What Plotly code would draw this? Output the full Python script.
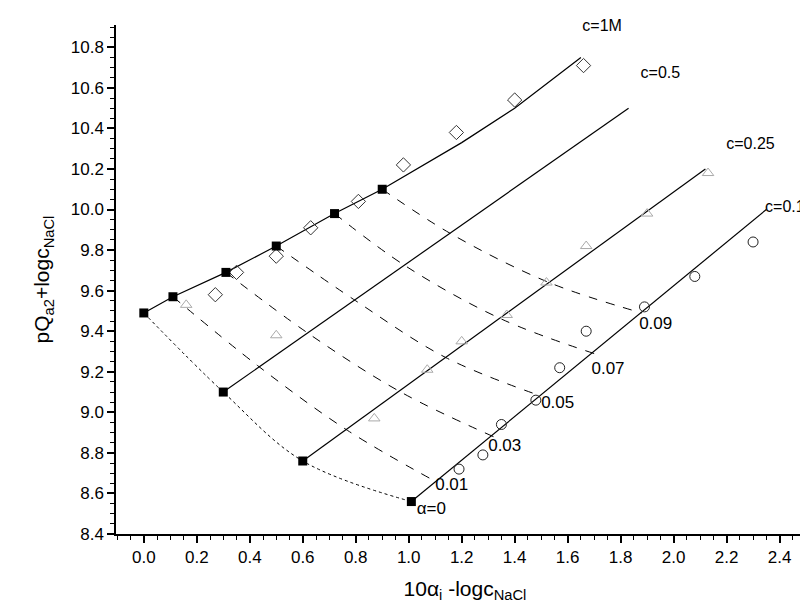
import plotly.graph_objects as go

# solid c-lines
c1_x = [0.0, 0.11, 0.31, 0.5, 0.72, 0.9, 1.2, 1.4, 1.65]
c1_y = [9.49, 9.57, 9.69, 9.82, 9.98, 10.1, 10.33, 10.5, 10.75]
c05_x = [0.3, 1.83]
c05_y = [9.1, 10.5]
c025_x = [0.6, 2.12]
c025_y = [8.76, 10.2]
c01_x = [1.01, 2.35]
c01_y = [8.56, 10.0]

# alpha curves (c=1, 0.5, 0.25, 0.1)
alpha_labels = ["α=0", "0.01", "0.03", "0.05", "0.07", "0.09"]
alpha_x = [[0.0, 0.3, 0.6, 1.01],
           [0.11, 0.43, 0.77, 1.1],
           [0.31, 0.62, 0.97, 1.32],
           [0.5, 0.8, 1.14, 1.5],
           [0.72, 0.99, 1.35, 1.7],
           [0.9, 1.16, 1.53, 1.88]]
alpha_y = [[9.49, 9.1, 8.76, 8.56],
           [9.57, 9.23, 8.91, 8.66],
           [9.69, 9.39, 9.1, 8.88],
           [9.82, 9.55, 9.27, 9.08],
           [9.98, 9.72, 9.46, 9.29],
           [10.1, 9.88, 9.64, 9.49]]
label_x = [1.03, 1.1, 1.3, 1.5, 1.69, 1.87]
label_y = [8.52, 8.64, 8.83, 9.04, 9.21, 9.43]

# filled squares
sq_x = [0.0, 0.11, 0.31, 0.5, 0.72, 0.9, 0.3, 0.6, 1.01]
sq_y = [9.49, 9.57, 9.69, 9.82, 9.98, 10.1, 9.1, 8.76, 8.56]

# measured points
dia_x = [0.27, 0.35, 0.5, 0.63, 0.81, 0.98, 1.18, 1.4, 1.66]
dia_y = [9.58, 9.69, 9.77, 9.91, 10.04, 10.22, 10.38, 10.54, 10.71]
tri_x = [0.16, 0.5, 0.87, 1.07, 1.2, 1.37, 1.52, 1.67, 1.9, 2.13]
tri_y = [9.53, 9.38, 8.97, 9.21, 9.35, 9.48, 9.64, 9.82, 9.98, 10.18]
cir_x = [1.19, 1.28, 1.35, 1.48, 1.57, 1.67, 1.89, 2.08, 2.3]
cir_y = [8.72, 8.79, 8.94, 9.06, 9.22, 9.4, 9.52, 9.67, 9.84]

c_labels = ["c=1M", "c=0.5", "c=0.25", "c=0.1"]
c_label_x = [1.73, 1.95, 2.29, 2.42]
c_label_y = [10.9, 10.67, 10.32, 10.01]

fig = go.Figure()
for i in range(len(alpha_x)):
    fig.add_trace(go.Scatter(x=alpha_x[i], y=alpha_y[i], mode="lines", line_shape="spline",
                             line=dict(color="black", width=1, dash="dot" if i == 0 else "dash")))
for xs, ys in [(c1_x, c1_y), (c05_x, c05_y), (c025_x, c025_y), (c01_x, c01_y)]:
    fig.add_trace(go.Scatter(x=xs, y=ys, mode="lines", line=dict(color="black", width=1.2)))
fig.add_trace(go.Scatter(x=dia_x, y=dia_y, mode="markers",
                         marker=dict(symbol="diamond-open", size=11, color="#333", line=dict(width=1))))
fig.add_trace(go.Scatter(x=tri_x, y=tri_y, mode="markers",
                         marker=dict(symbol="triangle-up-open", size=10, color="#aaa", line=dict(width=1))))
fig.add_trace(go.Scatter(x=cir_x, y=cir_y, mode="markers",
                         marker=dict(symbol="circle-open", size=10, color="#222", line=dict(width=1))))
fig.add_trace(go.Scatter(x=sq_x, y=sq_y, mode="markers",
                         marker=dict(symbol="square", size=9, color="black")))
fig.add_trace(go.Scatter(x=label_x, y=label_y, mode="text", text=alpha_labels, cliponaxis=False,
                         textposition="middle right", textfont=dict(size=17, color="black")))
fig.add_trace(go.Scatter(x=c_label_x, y=c_label_y, mode="text", text=c_labels, cliponaxis=False,
                         textposition="middle center", textfont=dict(size=16, color="black")))

axis = dict(showgrid=False, zeroline=False, showline=True, linecolor="black", linewidth=1.5,
            ticks="outside", ticklen=7, tickwidth=1.5, tickcolor="black",
            tickfont=dict(size=17, color="black"),
            minor=dict(ticks="outside", ticklen=4, tickcolor="black", tickwidth=1))
fig.update_xaxes(axis, range=[-0.105, 2.53], tick0=0, dtick=0.2, tickformat=".1f",
                 title=dict(text="10α<sub>i</sub> -logc<sub>NaCl</sub>", font=dict(size=21, color="black")))
fig.update_yaxes(axis, range=[8.4, 10.91], tick0=8.4, dtick=0.2, tickformat=".1f",
                 title=dict(text="pQ<sub>a2</sub>+logc<sub>NaCl</sub>", font=dict(size=21, color="black")))
fig.update_layout(width=808, height=607, showlegend=False, plot_bgcolor="white", paper_bgcolor="white",
                  font=dict(family="Liberation Sans, Arial"),
                  margin=dict(l=108, r=2, t=17, b=81))
fig.write_html("out.html")
